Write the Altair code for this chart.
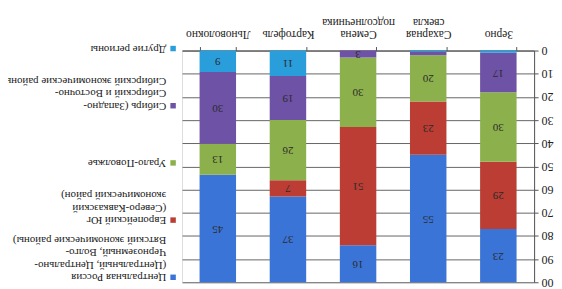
import altair as alt
import pandas as pd

# ---- data ----
crops = ["Зерно", "Сахарная свекла", "Семена подсолнечника", "Картофель", "Льноволокно"]
regions = ["Центральная Россия", "Европейский Юг", "Урало-Поволжье", "Сибирь", "Другие регионы"]
region_labels = [
    "Центральная Россия\n(Центральный, Центрально-\nЧерноземный, Волго-\nВятский экономические районы)",
    "Европейский Юг\n(Северо-Кавказский\nэкономический район)",
    "Урало-Поволжье",
    "Сибирь (Западно-\nСибирский и Восточно-\nСибирский экономические районы",
    "Другие регионы",
]
central = [23, 55, 16, 37, 45]
south = [29, 23, 51, 7, 0]
ural = [30, 20, 30, 26, 13]
siberia = [17, 1.5, 3, 19, 30]
other = [1, 0.5, 0, 11, 9]
colors = ["#3a74d6", "#bb3d33", "#8cb04b", "#6e52a6", "#2a9ddb"]

series = [central, south, ural, siberia, other]
rows = []
for r_i, (reg, vals) in enumerate(zip(regions, series)):
    for crop, v in zip(crops, vals):
        rows.append({"crop": crop, "region": reg, "value": v, "ord": 4 - r_i})
df = pd.DataFrame(rows)
leg = pd.DataFrame({"region": regions, "label": region_labels})

FONT = "Liberation Serif, Times New Roman, serif"
color_scale = alt.Scale(domain=regions, range=colors)
x_order = list(reversed(crops))

base = alt.Chart(df).transform_stack(
    stack="value", groupby=["crop"], as_=["y0", "y1"], offset="normalize",
    sort=[alt.SortField("ord", order="ascending")],
).transform_calculate(ym="(datum.y0 + datum.y1) / 2")

xaxis = alt.Axis(orient="top", labelAngle=180, labelAlign="center", labelBaseline="top",
                 labelExpr="split(datum.label, ' ')", labelFont=FONT, labelFontSize=11.5,
                 labelColor="#222", labelPadding=7, labelLineHeight=12,
                 labelOverlap=False, labelBound=False,
                 tickBand="extent", tickSize=4, tickColor="#555", domainColor="#555",
                 grid=False)
xscale = alt.Scale(paddingInner=0.48, paddingOuter=0.25)
yaxis = alt.Axis(orient="right", values=[i / 10 for i in range(11)],
                 labelExpr="round(datum.value * 100)", labelAngle=180,
                 labelAlign="right", labelBaseline="middle", labelFont=FONT,
                 labelFontSize=12, labelColor="#222", labelPadding=3,
                 labelOverlap=False, labelBound=False, labelFlush=False,
                 tickSize=4, tickColor="#555", domainColor="#555",
                 grid=True, gridColor="#666", gridWidth=1)
yscale = alt.Scale(domain=[0, 1], reverse=True, nice=False)

bars = base.mark_bar().encode(
    x=alt.X("crop:N", sort=x_order, title=None, scale=xscale, axis=xaxis),
    y=alt.Y("y0:Q", title=None, scale=yscale, axis=yaxis),
    y2="y1:Q",
    color=alt.Color("region:N", scale=color_scale, legend=None),
)

labels = base.transform_filter("datum.value >= 3").mark_text(
    angle=180, font=FONT, fontSize=11, color="#2a2a2a", baseline="middle", align="center"
).encode(
    x=alt.X("crop:N", sort=x_order, title=None, scale=xscale, axis=xaxis),
    y=alt.Y("ym:Q", title=None, scale=yscale, axis=yaxis),
    text=alt.Text("value:Q", format="d"),
)

main = alt.layer(bars, labels)

ly = alt.Y("region:N", sort=list(reversed(regions)), axis=None,
           scale=alt.Scale(type="point", range=[-2, 228], padding=0))
squares = alt.Chart(leg).mark_square(size=30, opacity=1).encode(
    x=alt.value(-9), y=ly,
    color=alt.Color("region:N", scale=color_scale, legend=None),
)
ltext = alt.Chart(leg).mark_text(
    angle=180, align="left", baseline="top", dy=-6, lineBreak="\n",
    font=FONT, fontSize=11, lineHeight=12.5, color="#1a1a1a",
).encode(x=alt.value(-16), y=ly, text="label:N")
legend = alt.layer(squares, ltext)

chart = alt.layer(main, legend).resolve_scale(y="independent").properties(
    width=354, height=233,
    padding={"left": 175, "top": 42, "right": 20, "bottom": 5},
    autosize=alt.AutoSizeParams(type="none"),
    background="white",
).configure_view(stroke=None).configure(font=FONT)

chart.save("out.html", embed_options={"renderer": "svg", "actions": False})
